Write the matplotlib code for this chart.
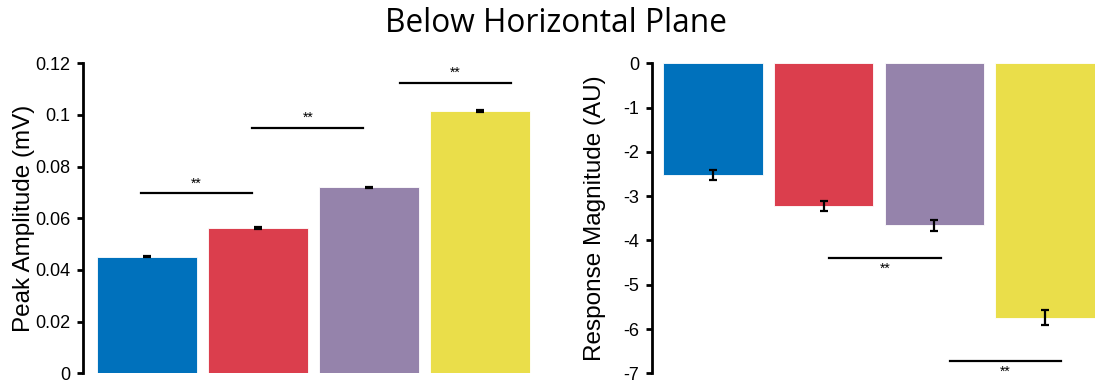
import matplotlib
matplotlib.use("Agg")
import matplotlib.pyplot as plt
from matplotlib.ticker import FuncFormatter

plt.rcParams["font.family"] = ["Liberation Sans", "DejaVu Sans"]
plt.rcParams["axes.unicode_minus"] = False

colors = ["#0071BC", "#DB3E4D", "#9583AB", "#EADE4A"]

# left panel: peak amplitude (mV)
peak_vals = [0.0452, 0.0563, 0.0720, 0.1017]
peak_err = [0.0003, 0.0003, 0.0003, 0.0004]
peak_sig_x = [(-0.05, 0.95), (0.95, 1.95), (2.28, 3.28)]
peak_sig_y = [0.0697, 0.0950, 0.1125]
peak_ticks = [0, 0.02, 0.04, 0.06, 0.08, 0.1, 0.12]

# right panel: response magnitude (AU)
resp_vals = [-2.52, -3.22, -3.66, -5.75]
resp_err = [0.105, 0.105, 0.125, 0.17]
resp_sig_x = [(1.05, 2.06), (2.14, 3.14)]
resp_sig_y = [-4.39, -6.72]
resp_ticks = [0, -1, -2, -3, -4, -5, -6, -7]

x = list(range(len(colors)))

fig = plt.figure(figsize=(10.95, 3.85), dpi=100)
ax1 = fig.add_axes([0.0758, 0.0304, 0.4133, 0.8052])
ax2 = fig.add_axes([0.5954, 0.0304, 0.4046, 0.8052])


def style(ax):
    for s in ["top", "right", "bottom"]:
        ax.spines[s].set_visible(False)
    ax.spines["left"].set_linewidth(2.0)
    ax.tick_params(axis="y", direction="out", length=4, width=2.0,
                   labelsize=13, pad=5)
    ax.set_xticks([])


ax1.bar(x, peak_vals, width=0.9, color=colors, edgecolor="white", linewidth=0.6)
ax1.errorbar(x, peak_vals, yerr=peak_err, fmt="none", ecolor="black",
             elinewidth=1.6, capsize=3, capthick=1.6)
for (x0, x1), y in zip(peak_sig_x, peak_sig_y):
    ax1.plot([x0, x1], [y, y], color="black", lw=1.6)
    ax1.annotate("**", ((x0 + x1) / 2, y), xytext=(0, 2), textcoords="offset points",
                 ha="center", va="bottom", fontsize=10)
ax1.set_xlim(-0.573, 3.5)
ax1.set_ylim(0, 0.12)
ax1.set_yticks(peak_ticks)
ax1.yaxis.set_major_formatter(FuncFormatter(lambda v, p: f"{v:g}"))
style(ax1)
ax1.set_ylabel("Peak Amplitude (mV)", fontsize=17.5)
ax1.yaxis.set_label_coords(-0.107, 0.5)

ax2.bar(x, resp_vals, width=0.9, color=colors, edgecolor="white", linewidth=0.6)
ax2.errorbar(x, resp_vals, yerr=resp_err, fmt="none", ecolor="black",
             elinewidth=1.6, capsize=3, capthick=1.6)
for (x0, x1), y in zip(resp_sig_x, resp_sig_y):
    ax2.plot([x0, x1], [y, y], color="black", lw=1.6)
    ax2.annotate("**", ((x0 + x1) / 2, y), xytext=(0, -3), textcoords="offset points",
                 ha="center", va="top", fontsize=10)
ax2.set_xlim(-0.549, 3.45)
ax2.set_ylim(-7, 0)
ax2.set_yticks(resp_ticks)
ax2.yaxis.set_major_formatter(FuncFormatter(lambda v, p: f"{v:g}"))
style(ax2)
ax2.set_ylabel("Response Magnitude (AU)", fontsize=17.5)
ax2.yaxis.set_label_coords(-0.104, 0.5)

fig.text(0.508, 0.938, "Below Horizontal Plane", ha="center", va="center",
         fontsize=22.8, family=["Open Sans", "DejaVu Sans"])

fig.savefig("out.png", dpi=100)
plt.close(fig)
